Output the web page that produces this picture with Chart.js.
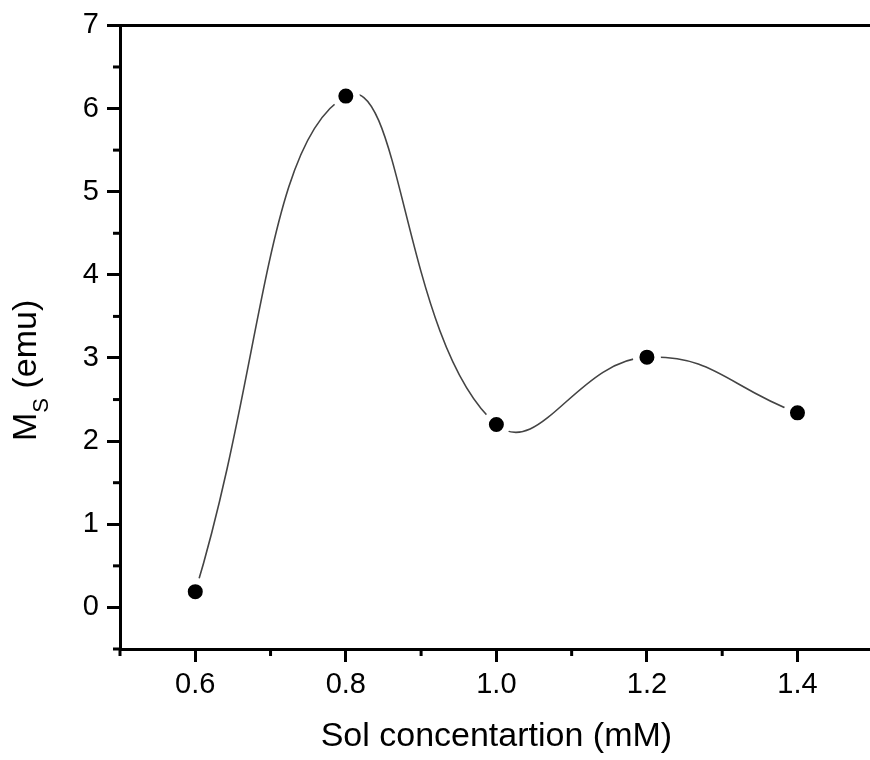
<!DOCTYPE html>
<html>
<head>
<meta charset="utf-8">
<script src="https://cdn.jsdelivr.net/npm/chart.js@4.4.1/dist/chart.umd.min.js"></script>
<style>
  html, body { margin: 0; padding: 0; background: #fff; overflow: hidden; }
</style>
</head>
<body>
<canvas id="ms-chart" width="890" height="760"></canvas>
<script>
// Data
var concentrations = [0.6, 0.8, 1.0, 1.2, 1.4];
var msValues = [0.19, 6.15, 2.2, 3.01, 2.34];
var xTickLabels = ['0.6', '0.8', '1.0', '1.2', '1.4'];
var yTickLabels = ['0', '1', '2', '3', '4', '5', '6', '7'];

var fontFamily = "'Liberation Sans', Arial, Helvetica, sans-serif";

// Helpers for major / minor ticks
function xLabelFor(v) {
  var s = v.toFixed(1);
  return xTickLabels.indexOf(s) >= 0 ? s : '';
}
function yLabelFor(v) {
  var s = String(Math.round(v));
  return (Math.abs(v - Math.round(v)) < 1e-6 && yTickLabels.indexOf(s) >= 0) ? s : '';
}

// Minor ticks, top frame line and the y title (it has a subscript)
var framePlugin = {
  id: 'frame',
  afterDraw: function(chart) {
    var c = chart.ctx;
    var area = chart.chartArea;
    c.save();
    c.strokeStyle = '#000';
    c.lineWidth = 3;
    c.beginPath();
    c.moveTo(area.left - 1.5, area.top);
    c.lineTo(area.right, area.top);
    c.stroke();

    chart.scales.x.ticks.forEach(function(t) {
      if (xLabelFor(t.value) !== '') return;
      var px = chart.scales.x.getPixelForValue(t.value);
      c.beginPath();
      c.moveTo(px, area.bottom);
      c.lineTo(px, area.bottom + 7);
      c.stroke();
    });
    chart.scales.y.ticks.forEach(function(t) {
      if (yLabelFor(t.value) !== '') return;
      var py = chart.scales.y.getPixelForValue(t.value);
      c.beginPath();
      c.moveTo(area.left - 7, py);
      c.lineTo(area.left, py);
      c.stroke();
    });

    c.translate(36, 441);
    c.rotate(-Math.PI / 2);
    c.fillStyle = '#000';
    c.textBaseline = 'alphabetic';
    c.textAlign = 'left';
    c.font = '34px ' + fontFamily;
    c.fillText('M', 0, 0);
    var w = c.measureText('M').width;
    c.font = '22px ' + fontFamily;
    c.fillText('S', w, 12);
    w += c.measureText('S').width;
    c.font = '34px ' + fontFamily;
    c.fillText(' (emu)', w, 0);
    c.restore();
  }
};

var ctx = document.getElementById('ms-chart').getContext('2d');
var msChart = new Chart(ctx, {
  type: 'line',
  data: {
    datasets: [{
      label: 'Ms',
      data: concentrations.map(function(x, i) { return { x: x, y: msValues[i] }; }),
      borderColor: '#444',
      borderWidth: 1.6,
      tension: 0.45,
      fill: false,
      pointRadius: 10.75,
      pointBorderWidth: 6.5,
      pointBackgroundColor: '#000',
      pointBorderColor: '#fff'
    }]
  },
  options: {
    responsive: false,
    animation: false,
    events: [],
    layout: { padding: { top: 24, right: 11, left: 0, bottom: 0 } },
    plugins: {
      legend: { display: false },
      tooltip: { enabled: false }
    },
    scales: {
      x: {
        type: 'linear',
        position: 'bottom',
        min: 0.5,
        max: 1.5,
        afterFit: function(scale) { scale.height = 111; },
        ticks: {
          stepSize: 0.1,
          autoSkip: false,
          maxRotation: 0,
          padding: 6,
          color: '#000',
          font: { family: fontFamily, size: 29 },
          callback: function(v) { return xLabelFor(v); }
        },
        grid: {
          drawOnChartArea: false,
          tickLength: 13,
          tickWidth: 3,
          tickColor: function(c) { return c.tick && xLabelFor(c.tick.value) !== '' ? '#000' : 'rgba(0,0,0,0)'; }
        },
        border: { color: '#000', width: 3 },
        title: {
          display: true,
          text: 'Sol concentartion (mM)',
          color: '#000',
          font: { family: fontFamily, size: 34 },
          padding: { top: 0, bottom: 3 }
        }
      },
      y: {
        type: 'linear',
        min: -0.5,
        max: 7,
        afterFit: function(scale) { scale.width = 120; },
        ticks: {
          stepSize: 0.5,
          autoSkip: false,
          padding: 8,
          color: '#000',
          font: { family: fontFamily, size: 29 },
          callback: function(v) { return yLabelFor(v); }
        },
        grid: {
          drawOnChartArea: false,
          tickLength: 13,
          tickWidth: 3,
          tickColor: function(c) { return c.tick && yLabelFor(c.tick.value) !== '' ? '#000' : 'rgba(0,0,0,0)'; }
        },
        border: { color: '#000', width: 3 }
      }
    }
  },
  plugins: [framePlugin]
});
</script>
</body>
</html>
